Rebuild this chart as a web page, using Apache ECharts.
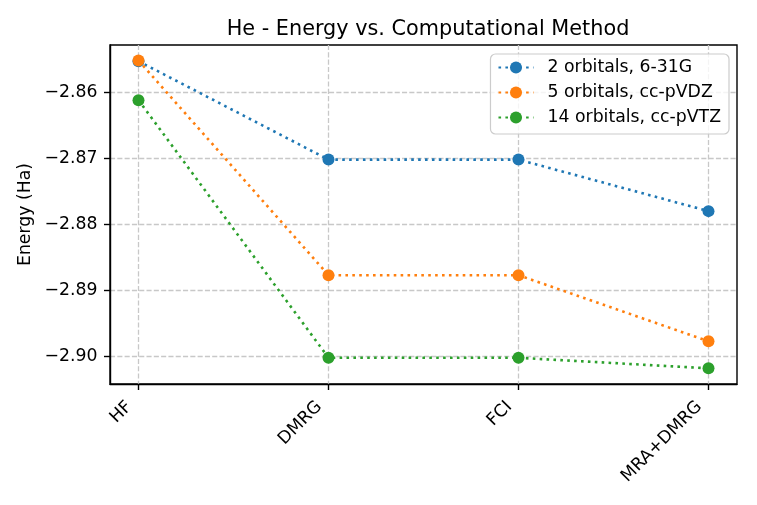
<!DOCTYPE html>
<html><head><meta charset="utf-8">
<script src="https://cdn.jsdelivr.net/npm/echarts@6/dist/echarts.min.js"></script>
<style>html,body{margin:0;padding:0;background:#fff}#c{width:757px;height:505px}</style>
</head><body><div id="c"></div>
<script>
const categories = ['HF', 'DMRG', 'FCI', 'MRA+DMRG'];
const seriesNames = ['2 orbitals, 6-31G', '5 orbitals, cc-pVDZ', '14 orbitals, cc-pVTZ'];
const energy2 = [-2.8553, -2.8702, -2.8702, -2.8780];
const energy5 = [-2.8552, -2.8877, -2.8877, -2.8977];
const energy14 = [-2.8612, -2.9002, -2.9002, -2.9018];
const yTicks = [-2.90, -2.89, -2.88, -2.87, -2.86];
const colors = ['#1f77b4', '#ff7f0e', '#2ca02c'];
const xIdx = categories.map((_, i) => i);
const font = 'DejaVu Sans';
const fs = 17.3;

function mk(name, vals, color) {
  return {
    name, type: 'line',
    data: vals.map((v, i) => [i, v]),
    symbol: 'circle', symbolSize: 12,
    itemStyle: { color },
    lineStyle: { color, width: 2.6, type: [2.6, 4.3] },
    z: 3
  };
}
const gridLine = { show: true, lineStyle: { color: '#c8c8c8', type: [5.1, 2.2], width: 1.3 } };
const chart = echarts.init(document.getElementById('c'), null, { renderer: 'canvas' });
chart.setOption({
  animation: false,
  textStyle: { fontFamily: font },
  title: {
    text: 'He - Energy vs. Computational Method',
    left: 423, top: 14, textAlign: 'center',
    textStyle: { fontFamily: font, fontSize: 20.8, fontWeight: 'normal', color: '#000' }
  },
  grid: { left: 110, right: 20, top: 45, bottom: 121, show: true, borderColor: '#000', borderWidth: 1.4, backgroundColor: 'transparent' },
  legend: {
    right: 28, top: 54, orient: 'vertical',
    itemWidth: 35, itemHeight: 15, itemGap: 8,
    backgroundColor: 'rgba(255,255,255,0.8)', borderColor: '#cccccc', borderWidth: 1.2, borderRadius: 5,
    padding: [5, 8, 8, 7],
    textStyle: { fontFamily: font, fontSize: fs, color: '#000', padding: [0, 0, 0, 9] },
    data: seriesNames
  },
  xAxis: {
    type: 'value', min: -0.15, max: 3.15,
    axisLine: { show: true, onZero: false, lineStyle: { color: '#000', width: 1.4 } },
    axisTick: { show: true, customValues: xIdx, length: 6, lineStyle: { color: '#000', width: 1.4 } },
    axisLabel: {
      customValues: xIdx, rotate: 45, margin: 11, padding: [0, 13, 0, 0],
      fontFamily: font, fontSize: fs, color: '#000',
      formatter: v => categories[Math.round(v)] || ''
    },
    splitLine: gridLine
  },
  yAxis: {
    type: 'value', min: -2.90417, max: -2.85285,
    name: 'Energy (Ha)', nameLocation: 'middle', nameGap: 74, nameRotate: 90,
    nameTextStyle: { fontFamily: font, fontSize: fs, color: '#000' },
    axisLine: { show: true, onZero: false, lineStyle: { color: '#000', width: 1.4 } },
    axisTick: { show: true, customValues: yTicks, length: 6, lineStyle: { color: '#000', width: 1.4 } },
    axisLabel: {
      customValues: yTicks, margin: 12.5,
      fontFamily: font, fontSize: fs, color: '#000',
      formatter: v => v.toFixed(2).replace('-', '\u2212')
    },
    splitLine: gridLine
  },
  series: [
    mk(seriesNames[0], energy2, colors[0]),
    mk(seriesNames[1], energy5, colors[1]),
    mk(seriesNames[2], energy14, colors[2])
  ]
});
</script></body></html>
